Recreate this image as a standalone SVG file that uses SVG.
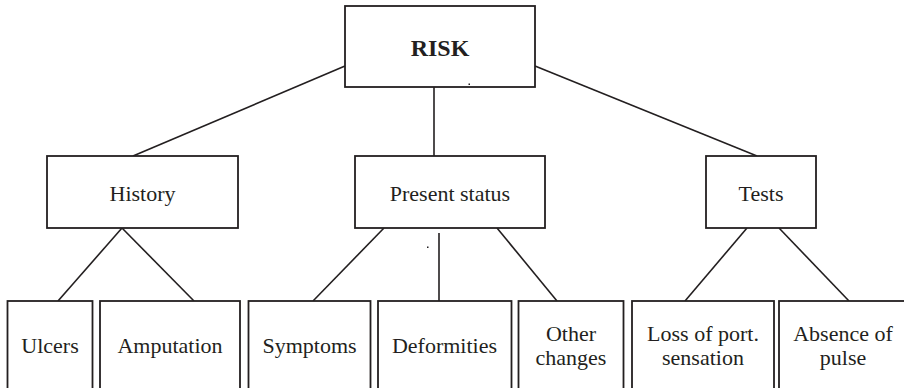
<svg xmlns="http://www.w3.org/2000/svg" width="904" height="388" viewBox="0 0 904 388">
  <style>
    .box { fill: #ffffff; stroke: #231f20; stroke-width: 1.8; }
    .link { stroke: #231f20; stroke-width: 1.6; fill: none; }
    .lbl { font-family: 'Liberation Serif', 'DejaVu Serif', serif; font-size: 22px; fill: #231f20; text-anchor: middle; }
    .title { font-weight: bold; font-size: 24px; }
  </style>
  <rect width="904" height="388" fill="#ffffff"/>

  <g id="connectors">
    <line class="link" x1="345" y1="66" x2="133" y2="156"/>
    <line class="link" x1="535" y1="66" x2="757" y2="156"/>
    <line class="link" x1="434" y1="87" x2="434" y2="156"/>
    <line class="link" x1="122" y1="228" x2="58" y2="301"/>
    <line class="link" x1="122" y1="228" x2="194" y2="301"/>
    <line class="link" x1="384" y1="228" x2="313" y2="301"/>
    <line class="link" x1="439" y1="233" x2="439" y2="301"/>
    <line class="link" x1="497" y1="228" x2="557" y2="301"/>
    <line class="link" x1="747" y1="228" x2="685" y2="301"/>
    <line class="link" x1="779" y1="228" x2="849" y2="301"/>
  </g>

  <g id="risk">
    <rect class="box" x="345" y="6" width="190" height="81"/>
    <text class="lbl title" x="440" y="56" font-family="Liberation Serif, DejaVu Serif, serif">RISK</text>
    <rect x="468.5" y="83.5" width="1.5" height="1.5" fill="#231f20"/>
  </g>

  <g id="history">
    <rect class="box" x="47" y="156" width="191" height="72"/>
    <text class="lbl" x="142.5" y="200.5" font-family="Liberation Serif, DejaVu Serif, serif">History</text>
  </g>

  <g id="present-status">
    <rect class="box" x="355" y="156" width="190" height="72"/>
    <text class="lbl" x="450" y="200.5" font-family="Liberation Serif, DejaVu Serif, serif">Present status</text>
    <rect x="427" y="246.5" width="1.5" height="1.5" fill="#231f20"/>
  </g>

  <g id="tests">
    <rect class="box" x="706" y="156" width="110" height="72"/>
    <text class="lbl" x="761" y="200.5" font-family="Liberation Serif, DejaVu Serif, serif">Tests</text>
  </g>

  <g id="ulcers">
    <rect class="box" x="7.5" y="301" width="85" height="92"/>
    <text class="lbl" x="50" y="352.5" font-family="Liberation Serif, DejaVu Serif, serif">Ulcers</text>
  </g>

  <g id="amputation">
    <rect class="box" x="100" y="301" width="140" height="92"/>
    <text class="lbl" x="170" y="352.5" font-family="Liberation Serif, DejaVu Serif, serif">Amputation</text>
  </g>

  <g id="symptoms">
    <rect class="box" x="248.5" y="301" width="122" height="92"/>
    <text class="lbl" x="309.5" y="352.5" font-family="Liberation Serif, DejaVu Serif, serif">Symptoms</text>
  </g>

  <g id="deformities">
    <rect class="box" x="378" y="301" width="133.5" height="92"/>
    <text class="lbl" x="444.5" y="352.5" font-family="Liberation Serif, DejaVu Serif, serif">Deformities</text>
  </g>

  <g id="other-changes">
    <rect class="box" x="518.5" y="301" width="105" height="92"/>
    <text class="lbl" x="571" y="340.5" font-family="Liberation Serif, DejaVu Serif, serif">Other</text>
    <text class="lbl" x="571" y="365" font-family="Liberation Serif, DejaVu Serif, serif">changes</text>
  </g>

  <g id="loss-of-sensation">
    <rect class="box" x="632" y="301" width="142" height="92"/>
    <text class="lbl" x="703" y="340.5" font-family="Liberation Serif, DejaVu Serif, serif">Loss of port.</text>
    <text class="lbl" x="703" y="365" font-family="Liberation Serif, DejaVu Serif, serif">sensation</text>
  </g>

  <g id="absence-of-pulse">
    <rect class="box" x="779" y="301" width="130" height="92"/>
    <text class="lbl" x="843" y="340.5" font-family="Liberation Serif, DejaVu Serif, serif">Absence of</text>
    <text class="lbl" x="843" y="365" font-family="Liberation Serif, DejaVu Serif, serif">pulse</text>
  </g>
</svg>
